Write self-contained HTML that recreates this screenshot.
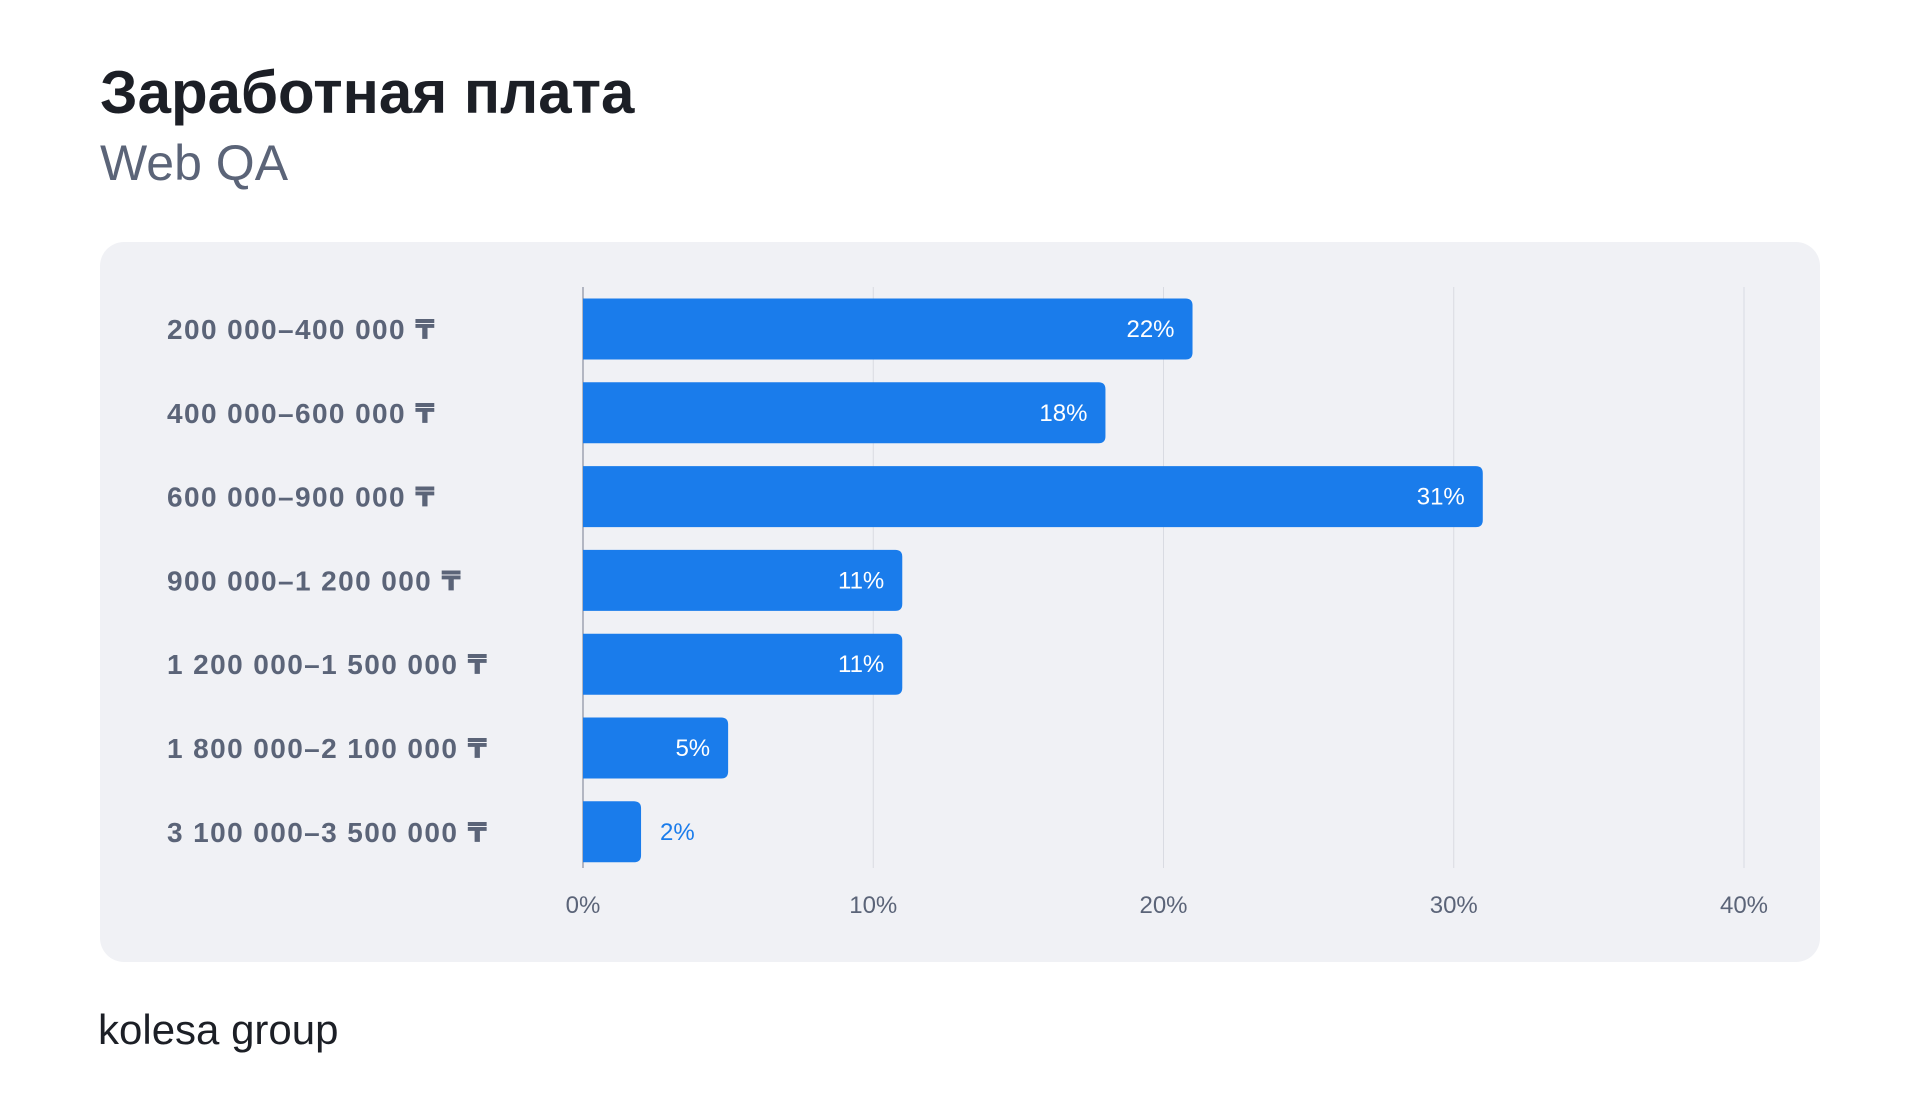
<!DOCTYPE html>
<html><head><meta charset="utf-8"><style>
body{margin:0;width:1920px;height:1113px;background:#fff;font-family:"Liberation Sans","DejaVu Sans",sans-serif;overflow:hidden;position:relative}
#title{position:absolute;left:100px;top:58px;font-size:60px;font-weight:bold;color:#1c1f26;margin:0}
#subtitle{position:absolute;left:100px;top:134px;font-size:50px;color:#5b6478}
#panel{position:absolute;left:100px;top:242px;width:1720px;height:720px;background:#f0f1f5;border-radius:24px}
#logo{position:absolute;left:98px;top:1006px;font-size:42px;color:#1c1f26}
</style></head><body>
<h1 id="title">Заработная плата</h1>
<div id="subtitle">Web QA</div>
<div id="panel"></div>
<svg id="chart" width="1920" height="1113" style="position:absolute;left:0;top:0"></svg>
<div id="logo">kolesa group</div>
<script>
const categories=["200 000–400 000 ₸","400 000–600 000 ₸","600 000–900 000 ₸","900 000–1 200 000 ₸","1 200 000–1 500 000 ₸","1 800 000–2 100 000 ₸","3 100 000–3 500 000 ₸"];
const values=[21,18,31,11,11,5,2];
const valueLabels=["22%","18%","31%","11%","11%","5%","2%"];
const ticks=[0,10,20,30,40];
const tickLabels=["0%","10%","20%","30%","40%"];
const NS="http://www.w3.org/2000/svg";
const svg=document.getElementById('chart');
const x0=583,x1=1744,xmax=40;
const xs=v=>x0+(x1-x0)*v/xmax;
const yc=i=>329+i*83.8;
const bh=61;
function mk(t,a){const e=document.createElementNS(NS,t);for(const k in a)e.setAttribute(k,a[k]);svg.appendChild(e);return e;}
ticks.forEach((t,i)=>{
 const l=mk('line',{x1:xs(t),x2:xs(t),y1:287,y2:868,stroke:t===0?'#8a90a0':'#d9dbe2','stroke-width':t===0?1.2:1});
 
 
 const tx=mk('text',{x:xs(t),y:913,'text-anchor':'middle','font-size':24,fill:'#5b6478'});
 tx.textContent=tickLabels[i];
 
 
});
categories.forEach((c,i)=>{
 const y=yc(i);
 const lb=mk('text',{x:167,y:y+10,'font-size':28,'font-weight':'bold','letter-spacing':1.4,fill:'#5b6478'});
 lb.textContent=c;
 
 
 const w=xs(values[i])-x0,r=7;
 const p=mk('path',{d:`M${x0},${y-bh/2}H${x0+w-r}Q${x0+w},${y-bh/2} ${x0+w},${y-bh/2+r}V${y+bh/2-r}Q${x0+w},${y+bh/2} ${x0+w-r},${y+bh/2}H${x0}Z`,fill:'#1a7ceb'});
 
 
 const inside=w>80;
 const vt=mk('text',{x:inside?x0+w-18:x0+w+19,y:y+8,'text-anchor':inside?'end':'start','font-size':24,fill:inside?'#fff':'#1a7ceb'});
 vt.textContent=valueLabels[i];
 
 
});
</script>
</body></html>
